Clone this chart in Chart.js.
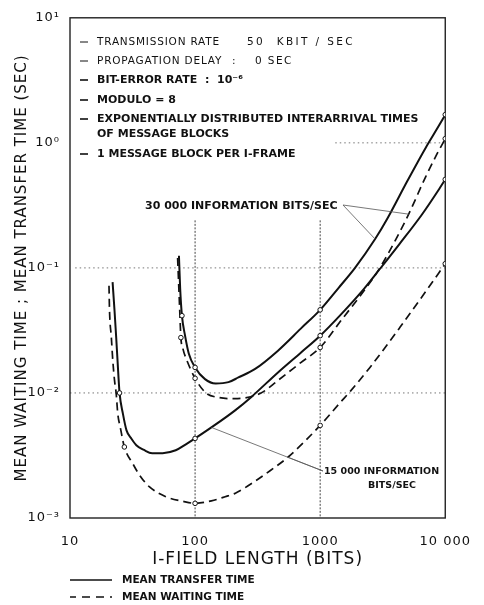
<!DOCTYPE html>
<html>
<head>
<meta charset="utf-8">
<title>Mean waiting time / mean transfer time vs I-field length</title>
<script src="https://cdn.jsdelivr.net/npm/chart.js@4.4.1/dist/chart.umd.min.js"></script>
<style>
  html, body { margin: 0; padding: 0; background: #fff; }
  #chart { display: block; }
</style>
</head>
<body>
<canvas id="chart" width="484" height="605"></canvas>
<script>
// Values (I-field length in bits, time in sec).

// 30 000 information bits/sec
const x30kTransfer = [74.3, 76, 78.5, 83, 89, 100, 120, 146, 185, 222, 300, 460, 700, 1000, 1400, 1900, 2750, 3420, 5000, 7000, 8810, 10000];
const y30kTransfer = [0.125, 0.068, 0.0415, 0.029, 0.0207, 0.016, 0.0129, 0.0119, 0.0122, 0.0133, 0.0155, 0.0218, 0.0327, 0.0462, 0.069, 0.10, 0.17, 0.245, 0.50, 0.92, 1.35, 1.68];
const x30kWaiting = [72.5, 75, 77, 80, 86, 100, 122, 154, 209, 337, 460, 700, 1000, 1500, 2240, 3000, 4000, 5100, 7000, 8510, 10000];
const y30kWaiting = [0.12, 0.052, 0.0277, 0.0225, 0.0182, 0.0131, 0.0100, 0.0092, 0.0090, 0.0100, 0.0126, 0.0175, 0.0231, 0.039, 0.0656, 0.10, 0.167, 0.269, 0.54, 0.80, 1.08];

// 15 000 information bits/sec
const x15kTransfer = [21.9, 22.7, 23.4, 24, 24.9, 26.5, 28.3, 31, 33.9, 39, 45.4, 55, 70, 85, 100, 135, 209, 282, 460, 700, 1000, 1500, 2240, 3000, 4300, 6470, 8970, 10000];
const y15kTransfer = [0.077, 0.0454, 0.0279, 0.018, 0.0100, 0.0068, 0.00502, 0.0043, 0.00382, 0.0035, 0.0033, 0.0033, 0.00348, 0.0039, 0.00433, 0.0053, 0.00726, 0.0093, 0.0146, 0.021, 0.0287, 0.0435, 0.068, 0.098, 0.155, 0.265, 0.43, 0.51];
const x15kWaiting = [20.5, 20.7, 21.4, 22.0, 22.7, 23.4, 24.1, 25.2, 27.2, 31.7, 36, 43, 58.3, 80, 100, 135, 174, 210, 300, 400, 552, 1000, 1450, 1740, 2500, 4330, 7000, 10000];
const y15kWaiting = [0.072, 0.0454, 0.0279, 0.018, 0.0126, 0.0099, 0.0068, 0.00535, 0.0037, 0.00273, 0.0022, 0.00178, 0.00148, 0.00136, 0.00131, 0.00137, 0.00148, 0.00158, 0.00196, 0.0024, 0.00306, 0.0055, 0.0084, 0.0103, 0.016, 0.0333, 0.065, 0.108];

// lengths where the original shows a small circle on the curve
const marks30kTransfer = [78.5, 100, 1000, 10000];
const marks30kWaiting = [77, 100, 1000, 10000];
const marks15kTransfer = [24.9, 100, 1000, 10000];
const marks15kWaiting = [27.2, 100, 1000, 10000];

const xTickValues = [10, 100, 1000, 10000];
const xTickLabels = ['10', '100', '1000', '10 000'];
const yTickValues = [0.001, 0.01, 0.1, 1, 10];
const yTickLabels = ['10⁻³', '10⁻²', '10⁻¹', '10⁰', '10¹'];

const FONT = "'DejaVu Sans', sans-serif";
const INK = '#111';

/* ---- decorations: frame, partial grid, notes, leaders, legend ---- */

const conditionLines = [
  { dash: true, bold: false, parts: [['TRANSMISSION RATE', 0], ['50  KBIT / SEC', 150, '2.4px']] },
  { dash: true, bold: false, parts: [['PROPAGATION DELAY', 0], [':', 135], ['0 SEC', 158, '1.4px']] },
  { dash: true, bold: true, parts: [['BIT-ERROR RATE', 0], [':  10⁻⁶', 108]] },
  { dash: true, bold: true, parts: [['MODULO = 8', 0]] },
  { dash: true, bold: true, parts: [['EXPONENTIALLY DISTRIBUTED INTERARRIVAL TIMES', 0]] },
  { dash: false, bold: true, parts: [['OF MESSAGE BLOCKS', 0]] },
  { dash: true, bold: true, parts: [['1 MESSAGE BLOCK PER I-FRAME', 0]] }
];
const conditionRows = [42, 61, 80, 100, 119, 134, 154];

function pointOf(xs, ys, x) {
  const i = xs.indexOf(x);
  return { x: xs[i], y: ys[i] };
}

const figureDecor = {
  id: 'figureDecor',
  beforeDraw(chart) {
    // the original lettering is widely spaced
    chart.ctx.letterSpacing = '1px';
  },
  beforeDatasetsDraw(chart) {
    const { ctx, chartArea: a, scales: { x, y } } = chart;
    ctx.save();
    // dotted horizontal references
    ctx.strokeStyle = '#777';
    ctx.lineWidth = 1;
    ctx.setLineDash([1.5, 3]);
    [[0.1, 11, 10000], [0.01, 10, 10000], [1, 1320, 10000]].forEach(([v, from, to]) => {
      ctx.beginPath();
      ctx.moveTo(x.getPixelForValue(from), y.getPixelForValue(v));
      ctx.lineTo(x.getPixelForValue(to), y.getPixelForValue(v));
      ctx.stroke();
    });
    // vertical references at 100 and 1000 bits, below the upper label
    ctx.strokeStyle = '#444';
    ctx.setLineDash([2, 1.5]);
    [100, 1000].forEach(v => {
      ctx.beginPath();
      ctx.moveTo(x.getPixelForValue(v), y.getPixelForValue(0.24));
      ctx.lineTo(x.getPixelForValue(v), a.bottom);
      ctx.stroke();
    });
    // frame
    ctx.setLineDash([]);
    ctx.strokeStyle = '#222';
    ctx.lineWidth = 1.4;
    ctx.strokeRect(a.left, a.top, a.right - a.left, a.bottom - a.top);
    ctx.restore();
  },
  afterDraw(chart) {
    const { ctx, chartArea: a, scales: { x, y } } = chart;
    const at = p => [x.getPixelForValue(p.x), y.getPixelForValue(p.y)];
    ctx.save();
    ctx.fillStyle = INK;
    ctx.strokeStyle = INK;
    ctx.textBaseline = 'middle';
    ctx.textAlign = 'left';

    // test conditions
    const textLeft = a.left + 27;
    conditionLines.forEach((line, i) => {
      const cy = conditionRows[i];
      ctx.font = line.bold ? 'bold 11px ' + FONT : '10.5px ' + FONT;
      if (line.dash) {
        ctx.lineWidth = line.bold ? 1.6 : 1;
        ctx.beginPath();
        ctx.moveTo(a.left + 10, cy);
        ctx.lineTo(a.left + 18, cy);
        ctx.stroke();
      }
      line.parts.forEach(([t, dx, spacing]) => {
        ctx.letterSpacing = spacing || (line.bold ? '0px' : '0.8px');
        ctx.fillText(t, textLeft + dx, cy);
      });
    });

    // curve labels and leaders
    ctx.letterSpacing = '0px';
    ctx.font = 'bold 11px ' + FONT;
    ctx.fillText('30 000 INFORMATION BITS/SEC', 145, 206);
    ctx.font = 'bold 9.5px ' + FONT;
    ctx.fillText('15 000 INFORMATION', 324, 472);
    ctx.textAlign = 'center';
    ctx.fillText('BITS/SEC', 392, 486);

    ctx.strokeStyle = '#555';
    ctx.lineWidth = 0.8;
    const leaders = [
      [[343, 205], pointOf(x30kTransfer, y30kTransfer, 2750)],
      [[343, 205], pointOf(x30kWaiting, y30kWaiting, 5100)],
      [[323, 471], pointOf(x15kWaiting, y15kWaiting, 552)],
      [[323, 471], pointOf(x15kTransfer, y15kTransfer, 135)]
    ];
    leaders.forEach(([from, p]) => {
      const [tx, ty] = at(p);
      ctx.beginPath();
      ctx.moveTo(from[0], from[1]);
      ctx.lineTo(tx, ty);
      ctx.stroke();
    });

    // legend
    ctx.strokeStyle = INK;
    ctx.lineWidth = 1.6;
    ctx.beginPath();
    ctx.moveTo(70, 580);
    ctx.lineTo(112, 580);
    ctx.stroke();
    ctx.setLineDash([8, 6]);
    ctx.lineDashOffset = 2;
    ctx.beginPath();
    ctx.moveTo(70, 597);
    ctx.lineTo(112, 597);
    ctx.stroke();
    ctx.setLineDash([]);
    ctx.textAlign = 'left';
    ctx.font = 'bold 10.5px ' + FONT;
    ctx.fillText('MEAN TRANSFER TIME', 122, 580);
    ctx.fillText('MEAN WAITING TIME', 122, 597);
    ctx.restore();
  }
};

function curve(label, xs, ys, marks, dashed) {
  return {
    label,
    data: xs.map((v, i) => ({ x: v, y: ys[i] })),
    borderColor: INK,
    borderWidth: dashed ? 1.7 : 2,
    borderDash: dashed ? [8, 5] : [],
    cubicInterpolationMode: 'monotone',
    fill: false,
    pointRadius: ctx => (marks.includes(xs[ctx.dataIndex]) ? 2.3 : 0),
    pointBackgroundColor: '#fff',
    pointBorderColor: INK,
    pointBorderWidth: 1
  };
}

new Chart(document.getElementById('chart'), {
  type: 'line',
  data: {
    datasets: [
      curve('30 000 bits/sec, transfer', x30kTransfer, y30kTransfer, marks30kTransfer, false),
      curve('30 000 bits/sec, waiting', x30kWaiting, y30kWaiting, marks30kWaiting, true),
      curve('15 000 bits/sec, transfer', x15kTransfer, y15kTransfer, marks15kTransfer, false),
      curve('15 000 bits/sec, waiting', x15kWaiting, y15kWaiting, marks15kWaiting, true)
    ]
  },
  options: {
    responsive: false,
    animation: false,
    devicePixelRatio: 1,
    layout: { padding: { left: 0, right: 35, top: 16, bottom: 35 } },
    plugins: {
      legend: { display: false },
      tooltip: { enabled: false }
    },
    scales: {
      x: {
        type: 'logarithmic',
        min: 10,
        max: 10000,
        afterBuildTicks: s => { s.ticks = xTickValues.map(v => ({ value: v })); },
        afterFit: s => { s.height = 52; },
        grid: { display: false, drawTicks: false },
        border: { display: false },
        ticks: {
          autoSkip: false,
          maxRotation: 0,
          padding: 16,
          color: INK,
          font: { family: FONT, size: 13 },
          callback: v => xTickLabels[xTickValues.indexOf(v)]
        },
        title: {
          display: true,
          text: 'I-FIELD LENGTH (BITS)',
          color: INK,
          font: { family: FONT, size: 17 },
          padding: { top: 0, bottom: 0 }
        }
      },
      y: {
        type: 'logarithmic',
        min: 0.001,
        max: 10,
        afterBuildTicks: s => { s.ticks = yTickValues.map(v => ({ value: v })); },
        afterFit: s => { s.width = 70; },
        grid: { display: false, drawTicks: false },
        border: { display: false },
        ticks: {
          autoSkip: false,
          padding: 10,
          color: INK,
          font: { family: FONT, size: 13 },
          callback: v => yTickLabels[yTickValues.indexOf(v)]
        },
        title: {
          display: true,
          text: 'MEAN WAITING TIME ; MEAN TRANSFER TIME (SEC)',
          color: INK,
          font: { family: FONT, size: 15 },
          padding: { top: 13, bottom: 0 }
        }
      }
    }
  },
  plugins: [figureDecor]
});
</script>
</body>
</html>
